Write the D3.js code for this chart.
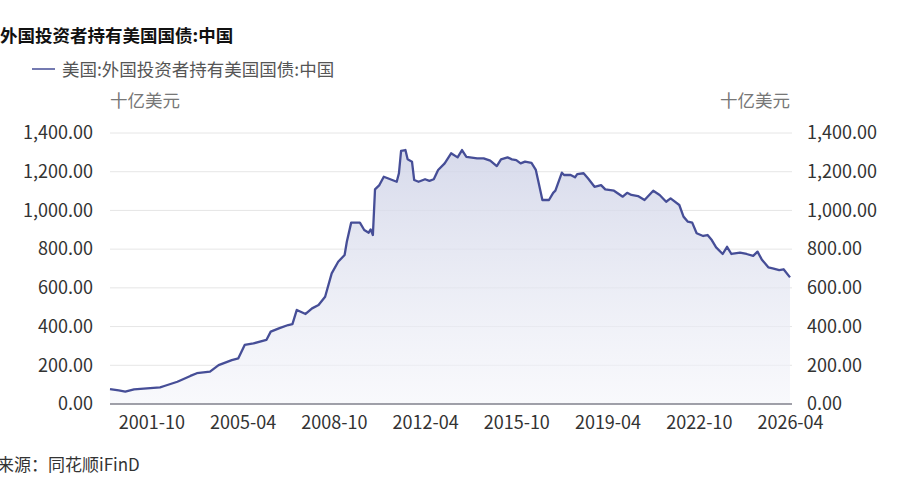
<!DOCTYPE html>
<html lang="zh">
<head>
<meta charset="UTF-8" />
<title>外国投资者持有美国国债:中国</title>
<script src="https://d3js.org/d3.v7.min.js"></script>
<style>
  body { margin: 0; background: #fff; }
  text { font-family: "Noto Sans CJK SC", "Noto Sans", sans-serif; }
</style>
</head>
<body>
<div id="chart"></div>
<script>
// data (billion USD)
const dates = [
  "2000-03","2000-07","2000-10","2001-02","2001-08","2002-02","2002-04","2002-10",
  "2003-04","2003-07","2004-01","2004-05","2004-11","2005-02","2005-05","2005-09",
  "2006-03","2006-05","2006-09","2007-01","2007-03","2007-05","2007-09","2007-12",
  "2008-03","2008-06","2008-09","2008-12","2009-03","2009-04","2009-06","2009-10",
  "2009-12","2010-02","2010-03","2010-04","2010-05","2010-07","2010-09","2010-12",
  "2011-03","2011-04","2011-05","2011-07","2011-08","2011-10","2011-11","2012-01",
  "2012-04","2012-06","2012-08","2012-10","2013-01","2013-04","2013-07","2013-09",
  "2013-11","2014-04","2014-07","2014-10","2015-01","2015-03","2015-06","2015-08",
  "2015-10","2015-12","2016-02","2016-05","2016-07","2016-08","2016-10","2017-01",
  "2017-03","2017-04","2017-07","2017-08","2017-11","2018-01","2018-02","2018-05",
  "2018-07","2018-10","2019-01","2019-03","2019-07","2019-11","2020-01","2020-03",
  "2020-06","2020-09","2021-01","2021-04","2021-07","2021-09","2022-01","2022-03",
  "2022-05","2022-07","2022-09","2022-12","2023-02","2023-04","2023-06","2023-09",
  "2023-11","2024-01","2024-05","2024-08","2024-11","2025-01","2025-03","2025-06",
  "2025-08","2025-11","2026-01","2026-04"
];
const holdings = [
  77, 70, 64, 76, 81, 86, 93, 115,
  145, 159, 167, 201, 227, 236, 305, 313,
  331, 374, 392, 408, 413, 486, 465, 494,
  511, 554, 675, 735, 770, 838, 937, 937,
  899, 885, 902, 873, 1109, 1131, 1174, 1161,
  1148, 1192, 1308, 1312, 1264, 1252, 1157, 1148,
  1161, 1153, 1161, 1209, 1243, 1295, 1274, 1312,
  1277, 1269, 1269, 1257, 1229, 1264, 1274, 1264,
  1260, 1243, 1252, 1246, 1209, 1157, 1054, 1054,
  1091, 1102, 1195, 1183, 1183, 1171, 1188, 1192,
  1166, 1122, 1131, 1109, 1102, 1071, 1091, 1080,
  1074, 1054, 1102, 1080, 1045, 1062, 1028, 968,
  942, 937, 882, 868, 873, 847, 809, 775,
  812, 775, 782, 775, 765, 787, 747, 706,
  701, 692, 696, 654
];
const xTickLabels = ["2001-10","2005-04","2008-10","2012-04","2015-10","2019-04","2022-10","2026-04"];
const yTicks = [0, 200, 400, 600, 800, 1000, 1200, 1400];

const title = "外国投资者持有美国国债:中国";
const seriesName = "美国:外国投资者持有美国国债:中国";
const unit = "十亿美元";
const source = "来源：同花顺iFinD";

const W = 900, H = 500;
const plot = { left: 110, right: 790, top: 133, bottom: 404 };

const parse = d3.timeParse("%Y-%m");
const data = dates.map((d, i) => ({ date: parse(d), value: holdings[i] }));

const svg = d3.select("#chart").append("svg")
  .attr("width", W).attr("height", H);

const x = d3.scaleTime()
  .domain([parse("2000-03"), parse("2026-04")])
  .range([plot.left, plot.right]);
const y = d3.scaleLinear()
  .domain([0, 1400])
  .range([plot.bottom, plot.top]);

const defs = svg.append("defs");
const grad = defs.append("linearGradient")
  .attr("id", "areaFill")
  .attr("gradientUnits", "userSpaceOnUse")
  .attr("x1", 0).attr("y1", plot.top).attr("x2", 0).attr("y2", plot.bottom);
grad.append("stop").attr("offset", "0%").attr("stop-color", "#cdd1e6").attr("stop-opacity", 0.85);
grad.append("stop").attr("offset", "100%").attr("stop-color", "#f4f5fa").attr("stop-opacity", 0.6);

// gridlines
svg.append("g")
  .selectAll("line")
  .data(yTicks.filter(v => v > 0))
  .join("line")
    .attr("x1", plot.left).attr("x2", plot.right + 2)
    .attr("y1", d => y(d)).attr("y2", d => y(d))
    .attr("stroke", "#e6e6e6").attr("stroke-width", 1);

// area + line
svg.append("path")
  .datum(data)
  .attr("fill", "url(#areaFill)")
  .attr("d", d3.area().x(d => x(d.date)).y0(y(0)).y1(d => y(d.value)));

svg.append("path")
  .datum(data)
  .attr("fill", "none")
  .attr("stroke", "#464e97")
  .attr("stroke-width", 2.3)
  .attr("stroke-linejoin", "round")
  .attr("d", d3.line().x(d => x(d.date)).y(d => y(d.value)));

// bottom axis
const xAxis = svg.append("g")
  .attr("transform", `translate(0,${plot.bottom})`)
  .call(d3.axisBottom(x)
    .tickValues(xTickLabels.map(parse))
    .tickFormat(d3.timeFormat("%Y-%m"))
    .tickSize(0)
    .tickPadding(12));
xAxis.select(".domain").attr("stroke", "#80808c").attr("stroke-width", 1.5)
  .attr("d", `M${plot.left},0H${plot.right + 2}`);
xAxis.selectAll("text").attr("fill", "#333").style("font-size", "18px")
  .style("font-family", "'Noto Sans CJK SC', sans-serif");

// left & right value axes
const fmt = d3.format(",.2f");
const leftAxis = svg.append("g")
  .attr("transform", `translate(${plot.left},0)`)
  .call(d3.axisLeft(y).tickValues(yTicks).tickFormat(fmt).tickSize(0).tickPadding(17));
const rightAxis = svg.append("g")
  .attr("transform", `translate(${plot.right + 2},0)`)
  .call(d3.axisRight(y).tickValues(yTicks).tickFormat(fmt).tickSize(0).tickPadding(15));
[leftAxis, rightAxis].forEach(a => {
  a.select(".domain").remove();
  a.selectAll("text").attr("fill", "#333").style("font-size", "18px")
    .style("font-family", "'Noto Sans CJK SC', sans-serif");
});

// unit labels
svg.append("text").attr("x", plot.left).attr("y", 107)
  .attr("fill", "#777").style("font-size", "17.5px").text(unit);
svg.append("text").attr("x", plot.right).attr("y", 107).attr("text-anchor", "end")
  .attr("fill", "#777").style("font-size", "17.5px").text(unit);

// title
svg.append("text").attr("x", 0).attr("y", 42)
  .attr("fill", "#111").style("font-size", "17.5px").style("font-weight", "bold").text(title);

// legend
svg.append("line").attr("x1", 32).attr("x2", 55).attr("y1", 69).attr("y2", 69)
  .attr("stroke", "#464e97").attr("stroke-width", 1.5);
svg.append("text").attr("x", 62).attr("y", 75.5)
  .attr("fill", "#555").style("font-size", "17.5px").text(seriesName);

// source
svg.append("text").attr("x", -3).attr("y", 471)
  .attr("fill", "#333").style("font-size", "17px").text(source);
</script>
</body>
</html>
